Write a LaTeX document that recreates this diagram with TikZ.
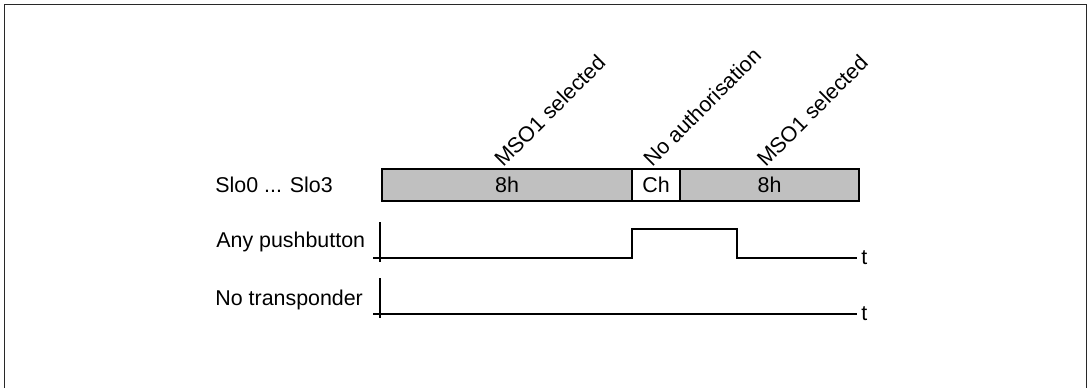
\documentclass[tikz,border=0pt]{standalone}
\usepackage{fontspec}
\setmainfont{Liberation Sans}
\usetikzlibrary{positioning}
\definecolor{slotgray}{RGB}{192,192,192}
\definecolor{framegray}{RGB}{40,40,40}
\newcommand{\sigfont}{\fontsize{10.7}{12.8}\selectfont}
\tikzset{
  seg/.style      = {draw, line width=0.7pt, outer sep=0pt, inner sep=0pt,
                     minimum height=16pt, font=\sigfont},
  siglabel/.style = {anchor=base west, inner sep=0pt, font=\sigfont},
  evlabel/.style  = {anchor=base west, rotate=45, inner sep=0pt, font=\sigfont},
  sig/.style      = {line width=0.7pt},
}

\begin{document}
\begin{tikzpicture}[x=0.5pt, y=-0.5pt]
\useasboundingbox (0,0) rectangle (1088,388);
% frame, open at the bottom
\draw[framegray, line width=0.9pt] (4.5,388) -- (4.5,4.5) -- (1086.5,4.5) -- (1086.5,388);

% slot bar
\node[seg, fill=slotgray, minimum width=125pt, anchor=west] (s1) at (382,185) {8h};
\node[seg, fill=white, minimum width=24pt, right=0pt of s1] (s2) {Ch};
\node[seg, fill=slotgray, minimum width=89.5pt, right=0pt of s2] (s3) {8h};
\foreach \s/\txt in {s1/MSO1 selected, s2/No authorisation, s3/MSO1 selected} {
    \node[evlabel] at ([xshift=-2pt, yshift=0.5pt]\s.north) {\txt};
}

% signal names
\node[siglabel] (lslo)   at (215,192) {Slo0 ... Slo3};
\node[siglabel] (lpush)  at (216,247) {Any pushbutton};
\node[siglabel] (ltrans) at (215,305) {No transponder};

% time axes
\foreach \y/\nm in {258/pb, 314/tr} {
    \draw[sig] (380,\y-36) -- (380,\y+4);
    \coordinate (\nm0) at (373,\y);
    \coordinate (\nm1) at (857,\y);
    \node[anchor=west, inner sep=0pt, font=\sigfont] (t\nm) at ([xshift=2pt]\nm1) {t};
}
\draw[sig] (pb0) -- (s2.west |- pb0) -- (632,229) -- (737,229) -- (737,258) -- (pb1);
\draw[sig] (tr0) -- (tr1);
\end{tikzpicture}
\end{document}
